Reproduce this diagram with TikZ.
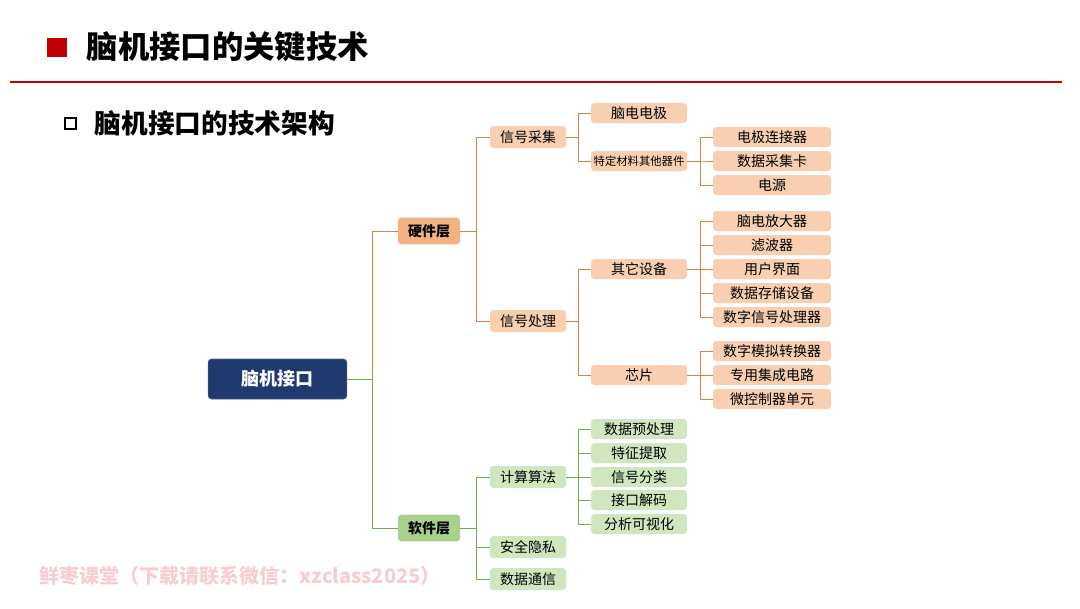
\documentclass[tikz,border=0pt]{standalone}
\usepackage{fontspec}
\setmainfont{Noto Sans CJK SC}
\usetikzlibrary{positioning}

\definecolor{titlered}{HTML}{C00000}
\definecolor{rootblue}{HTML}{1F3A6E}
\definecolor{hwfill}{HTML}{F4B183}
\definecolor{hwlight}{HTML}{F8CFB0}
\definecolor{hwline}{HTML}{D9823B}
\definecolor{swfill}{HTML}{A9D18E}
\definecolor{swlight}{HTML}{CFE6BF}
\definecolor{swline}{HTML}{70AD47}
\definecolor{markpink}{HTML}{F6CDD3}

\tikzset{
  box/.style={rectangle,rounded corners=2.5pt,inner sep=0pt,align=center,font=\fontsize{10.5}{12}\selectfont},
  rootbox/.style={box,fill=rootblue,draw=rootblue!80!white,minimum width=104pt,minimum height=30pt,text=white,font=\fontsize{13.5}{15}\selectfont\bfseries},
  layerbox/.style={box,minimum width=46.5pt,minimum height=20pt,font=\fontsize{10.5}{12}\selectfont\bfseries},
  groupbox/.style={box,minimum width=57pt,minimum height=16.5pt},
  subbox/.style={box,minimum width=72pt,minimum height=15pt},
  leafbox/.style={box,minimum width=88.5pt,minimum height=15pt},
  hwlink/.style={draw=hwline,line width=0.75pt},
  swlink/.style={draw=swline,line width=0.75pt}
}

\begin{document}
\begin{tikzpicture}[x=0.75pt,y=-0.75pt]
\useasboundingbox (0,0) rectangle (1080,608);

% Title
\fill[titlered] (47,38) rectangle (67,57);
\node[anchor=west,font=\fontsize{23.5}{26}\selectfont\bfseries] (title) at (82,47) {脑机接口的关键技术};
\draw[titlered,line width=1.5pt] (10,82) -- (1062,82);
\draw[line width=1.6pt] (65,118) rectangle (76,129);
\node[anchor=west,font=\fontsize{20}{23}\selectfont\bfseries] (subtitle) at (90,123) {脑机接口的技术架构};

% Root and layers
\node[rootbox] (bci) at (277.5,379) {脑机接口};
\node[layerbox,fill=hwfill] (hw) at (429,231) {硬件层};
\node[layerbox,fill=swfill] (sw) at (429,528) {软件层};

% Hardware
\node[groupbox,fill=hwlight] (acq) at (528,137) {信号采集};
\node[groupbox,fill=hwlight] (proc) at (528,321) {信号处理};
\node[subbox,fill=hwlight] (elec) at (639,113) {脑电电极};
\node[subbox,fill=hwlight,font=\fontsize{8.5}{10}\selectfont] (parts) at (639,161) {特定材料其他器件};
\node[subbox,fill=hwlight] (other) at (639,269) {其它设备};
\node[subbox,fill=hwlight] (chip) at (639,375) {芯片};

\node[leafbox,fill=hwlight] (conn) at (772,137) {电极连接器};
\node[leafbox,fill=hwlight] (daq) at (772,161) {数据采集卡};
\node[leafbox,fill=hwlight] (power) at (772,185) {电源};
\node[leafbox,fill=hwlight] (amp) at (772,221) {脑电放大器};
\node[leafbox,fill=hwlight] (filter) at (772,245) {滤波器};
\node[leafbox,fill=hwlight] (ui) at (772,269) {用户界面};
\node[leafbox,fill=hwlight] (store) at (772,293) {数据存储设备};
\node[leafbox,fill=hwlight] (dsp) at (772,317) {数字信号处理器};
\node[leafbox,fill=hwlight] (dac) at (772,351) {数字模拟转换器};
\node[leafbox,fill=hwlight] (asic) at (772,375) {专用集成电路};
\node[leafbox,fill=hwlight] (mcu) at (772,399) {微控制器单元};

% Software
\node[groupbox,fill=swlight] (algo) at (528,477) {计算算法};
\node[groupbox,fill=swlight] (sec) at (528,547) {安全隐私};
\node[groupbox,fill=swlight] (comm) at (528,579) {数据通信};
\node[subbox,fill=swlight] (pre) at (639,429) {数据预处理};
\node[subbox,fill=swlight] (feat) at (639,453) {特征提取};
\node[subbox,fill=swlight] (cls) at (639,477) {信号分类};
\node[subbox,fill=swlight] (dec) at (639,500) {接口解码};
\node[subbox,fill=swlight] (vis) at (639,524) {分析可视化};

% Connectors
\draw[swlink] (bci.east) -- (372,379) |- (sw.west);
\draw[hwlink] (372,379) |- (hw.west);
\foreach \c in {acq,proc} \draw[hwlink] (hw.east) -- (476,231) |- (\c.west);
\foreach \c in {elec,parts} \draw[hwlink] (acq.east) -- (578,137) |- (\c.west);
\foreach \c in {other,chip} \draw[hwlink] (proc.east) -- (578,321) |- (\c.west);
\foreach \c in {conn,daq,power} \draw[hwlink] (parts.east) -- (700,161) |- (\c.west);
\foreach \c in {amp,filter,ui,store,dsp} \draw[hwlink] (other.east) -- (700,269) |- (\c.west);
\foreach \c in {dac,asic,mcu} \draw[hwlink] (chip.east) -- (700,375) |- (\c.west);
\foreach \c in {algo,sec,comm} \draw[swlink] (sw.east) -- (476,528) |- (\c.west);
\foreach \c in {pre,feat,cls,dec,vis} \draw[swlink] (algo.east) -- (578,477) |- (\c.west);

% Watermark
\node[anchor=west,text=markpink,font=\fontsize{15}{17}\selectfont\bfseries] (mark) at (35,576) {鲜枣课堂（下载请联系微信：xzclass2025）};
\end{tikzpicture}
\end{document}
